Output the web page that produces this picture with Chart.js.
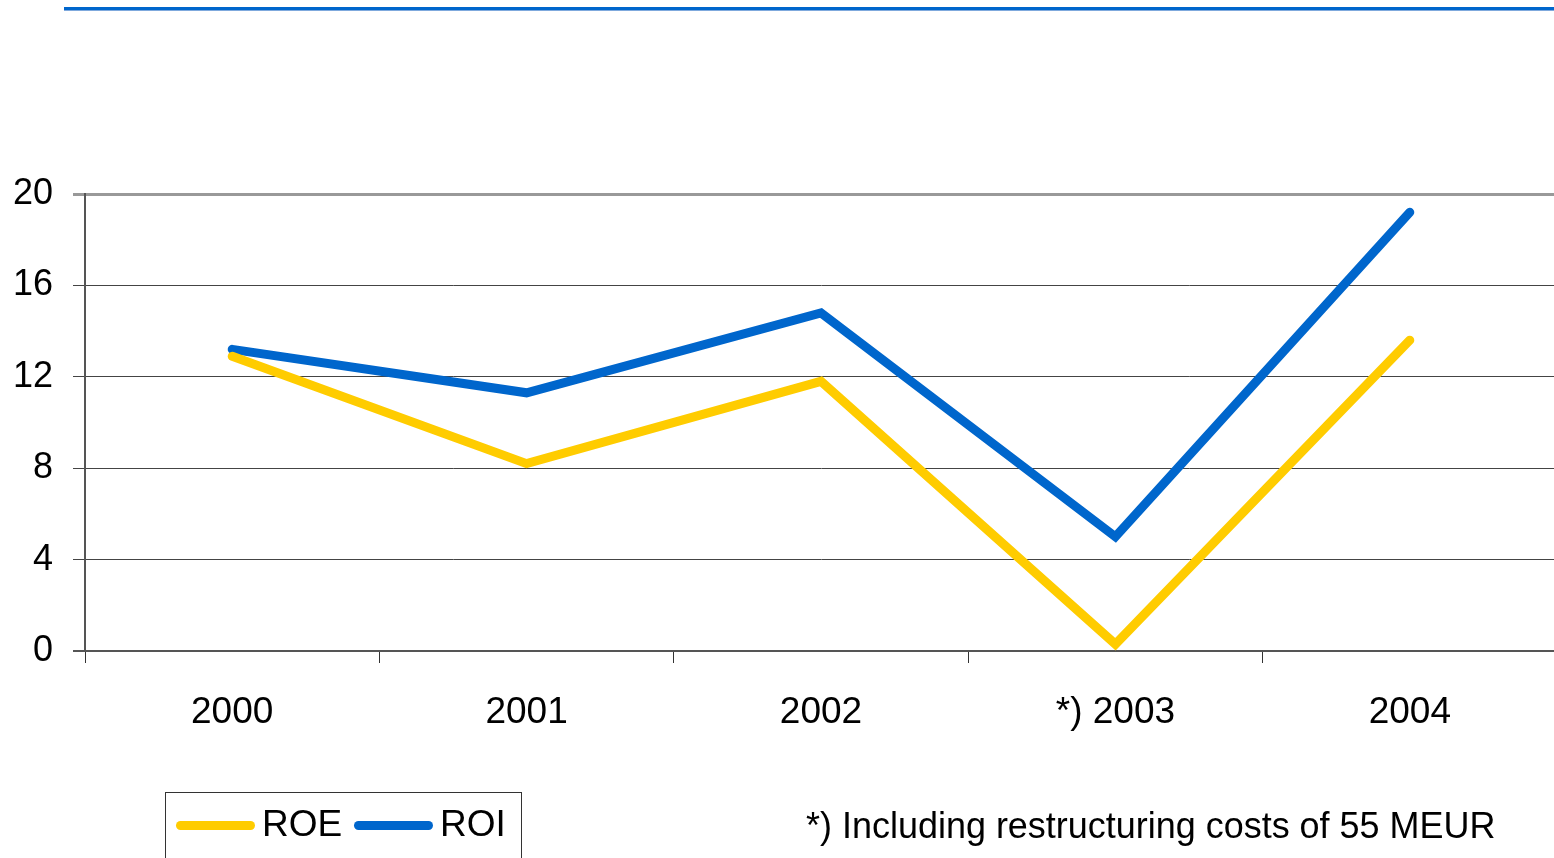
<!DOCTYPE html>
<html>
<head>
<meta charset="utf-8">
<script src="https://cdn.jsdelivr.net/npm/chart.js@4.4.1/dist/chart.umd.min.js"></script>
<style>
  html, body { margin: 0; padding: 0; background: #fff; overflow: hidden; }
  body { width: 1554px; height: 858px; position: relative; font-family: "Liberation Sans", Arial, sans-serif; }
  #topRule { position: absolute; left: 64px; top: 7px; width: 1490px; height: 3px; background: #0066cc; border-bottom: 1px solid #7fa9dd; }
  #wrap { position: absolute; left: 0; top: 0; width: 1560px; height: 858px; }
  #legend { position: absolute; left: 165px; top: 792px; width: 357px; height: 90px; border: 1px solid #333; box-sizing: border-box; }
  .item { position: absolute; top: 11px; font-size: 37px; line-height: 40px; color: #000; }
  .swatch { position: absolute; top: 17px; width: 79px; height: 9px; border-radius: 4.5px; }
  .item span { position: absolute; left: 86px; top: 0; white-space: nowrap; }
  #note { position: absolute; left: 806px; top: 806px; font-size: 37px; line-height: 40px; white-space: nowrap; transform-origin: 0 0; color: #000; }
</style>
</head>
<body>
<div id="topRule"></div>
<div id="wrap"><canvas id="roiChart" width="1560" height="858"></canvas></div>
<div id="legend"></div>
<div id="note">*) Including restructuring costs of 55 MEUR</div>
<script>
const years = ['2000', '2001', '2002', '*) 2003', '2004'];
const roe = [12.9, 8.2, 11.8, 0.3, 13.6];
const roi = [13.2, 11.3, 14.8, 5.0, 19.2];
const yTicks = [0, 4, 8, 12, 16, 20];

const seriesNames = ['ROE', 'ROI'];
const seriesColors = ['#ffcc00', '#0066cc'];

const ctx = document.getElementById('roiChart').getContext('2d');

const chart = new Chart(ctx, {
    type: 'line',
    data: {
        labels: years,
        datasets: [roe, roi].map((values, i) => ({
            label: seriesNames[i],
            data: values,
            borderColor: seriesColors[i],
            backgroundColor: seriesColors[i],
            borderWidth: 9,
            borderCapStyle: 'round',
            borderJoinStyle: 'miter',
            pointRadius: 0,
            tension: 0
        }))
    },
    options: {
        responsive: false,
        maintainAspectRatio: false,
        animation: false,
        devicePixelRatio: 1,
        layout: { padding: { top: 194, right: 3, bottom: 0, left: 0 } },
        plugins: { legend: { display: false }, tooltip: { enabled: false } },
        scales: {
            x: {
                offset: true,
                grid: {
                    offset: true,
                    drawOnChartArea: false,
                    color: '#333',
                    tickLength: 12,
                    tickWidth: 1
                },
                border: { display: false },
                ticks: {
                    color: '#000',
                    font: { family: 'Liberation Sans', size: 37 },
                    padding: 28
                },
                afterFit: scale => { scale.height = 207; }
            },
            y: {
                min: 0,
                max: 20,
                afterBuildTicks: scale => { scale.ticks = yTicks.map(v => ({ value: v })); },
                grid: {
                    color: c => c.tick.value === 20 ? '#999' : (c.tick.value === 0 ? '#555' : '#444'),
                    lineWidth: c => c.tick.value === 20 ? 3 : (c.tick.value === 0 ? 2 : 1),
                    tickLength: 12
                },
                border: { color: '#555', width: 2 },
                ticks: {
                    color: '#000',
                    font: { family: 'Liberation Sans', size: 36 },
                    padding: 20
                },
                afterFit: scale => { scale.width = 85; }
            }
        }
    }
});

// legend built from the datasets
const legend = document.getElementById('legend');
chart.data.datasets.forEach((ds, i) => {
    const item = document.createElement('div');
    item.className = 'item';
    item.style.left = (10 + i * 178) + 'px';
    const sw = document.createElement('div');
    sw.className = 'swatch';
    sw.style.background = ds.borderColor;
    const label = document.createElement('span');
    label.textContent = ds.label;
    item.appendChild(sw);
    item.appendChild(label);
    legend.appendChild(item);
});

// condensed footnote
const note = document.getElementById('note');
note.style.transform = 'scaleX(' + (689 / note.offsetWidth) + ')';
</script>
</body>
</html>
